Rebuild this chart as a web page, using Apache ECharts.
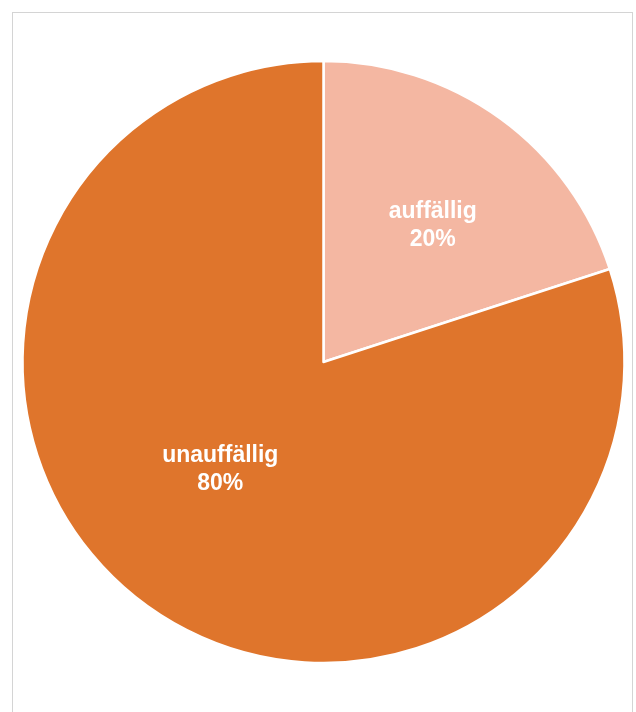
<!DOCTYPE html>
<html>
<head>
<meta charset="utf-8">
<script src="https://cdn.jsdelivr.net/npm/echarts@6/dist/echarts.min.js"></script>
<style>
  html, body { margin: 0; padding: 0; background: #fff; }
  #frame { position: absolute; left: 12px; top: 12px; width: 621px; height: 740px; border: 1px solid #d4d4d4; box-sizing: border-box; }
  #chart { position: absolute; left: 0; top: 0; width: 636px; height: 712px; }
</style>
</head>
<body>
<div id="frame"></div>
<div id="chart"></div>
<script>
const categories = ['auffällig', 'unauffällig'];
const values = [20, 80];
const colors = ['#F4B7A2', '#DF752C'];
const labelOffsets = [[19, -12], [-13, -17]];

const chart = echarts.init(document.getElementById('chart'), null, { renderer: 'canvas' });
chart.setOption({
  backgroundColor: 'transparent',
  animation: false,
  series: [{
    type: 'pie',
    center: [323.5, 362],
    radius: [0, 301],
    startAngle: 90,
    clockwise: true,
    avoidLabelOverlap: false,
    itemStyle: { borderColor: '#ffffff', borderWidth: 2.5 },
    label: {
      show: true,
      position: 'inside',
      formatter: '{b}\n{d}%',
      color: '#ffffff',
      fontFamily: 'Liberation Sans, Arial, sans-serif',
      fontWeight: 'bold',
      fontSize: 23,
      lineHeight: 28,
      align: 'center'
    },
    labelLine: { show: false },
    emphasis: { disabled: true },
    data: categories.map((c, i) => ({
      name: c,
      value: values[i],
      itemStyle: { color: colors[i] },
      label: { offset: labelOffsets[i] }
    }))
  }]
});
</script>
</body>
</html>
